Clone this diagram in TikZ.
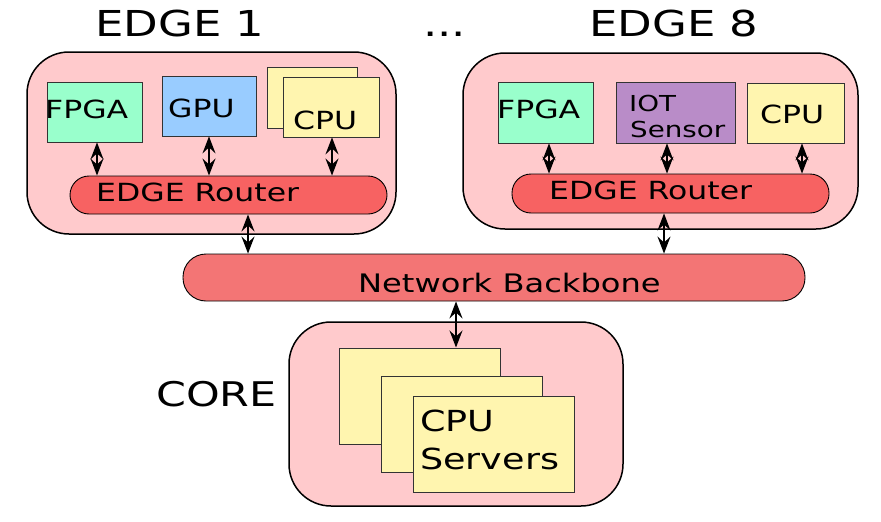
\documentclass[tikz,border=0pt]{standalone}
\usepackage{fontspec}
\setmainfont{DejaVu Sans}[FakeStretch=1.26]
\usetikzlibrary{arrows.meta}
\definecolor{pinkbg}{RGB}{255,202,204}
\definecolor{fpgac}{RGB}{153,255,204}
\definecolor{gpuc}{RGB}{153,204,255}
\definecolor{cpuc}{RGB}{255,245,175}
\definecolor{iotc}{RGB}{185,140,200}
\definecolor{routerc}{RGB}{247,98,98}
\definecolor{backc}{RGB}{243,117,117}
\begin{document}
\begin{tikzpicture}[x=1pt,y=-1pt,
  outer/.style={draw=black, line width=1.5pt, fill=pinkbg, rounded corners=42pt, inner sep=0pt},
  box/.style={draw=black!80, line width=0.8pt, inner sep=0pt},
  pill/.style={draw=black, line width=0.9pt, inner sep=0pt},
  lbl/.style={inner sep=0pt, anchor=base west},
  dar/.style={{Stealth[length=17pt,width=13pt,inset=6pt]}-{Stealth[length=17pt,width=13pt,inset=6pt]}, line width=1.5pt}]
\useasboundingbox (0,0) rectangle (881,522);
% outer containers
\node[outer, minimum width=369pt, minimum height=182pt] (edge1) at (211.5,143) {};
\node[outer, minimum width=395pt, minimum height=176pt] (edge8) at (660.5,141) {};
\node[outer, minimum width=334pt, minimum height=184pt] (core) at (456,414) {};
% edge 1 devices
\node[box, fill=fpgac, minimum width=95pt, minimum height=60pt] (fpga1) at (94.5,112) {};
\node[box, fill=gpuc, minimum width=94pt, minimum height=60pt] (gpu1) at (209,106) {};
\node[box, fill=cpuc, minimum width=90pt, minimum height=61pt] (cpu1b) at (312,97.5) {};
\node[box, fill=cpuc, minimum width=96pt, minimum height=60pt] (cpu1) at (331,107) {};
\node[pill, fill=routerc, rounded corners=19pt, minimum width=317pt, minimum height=38pt] (router1) at (228.5,195) {};
% edge 8 devices
\node[box, fill=fpgac, minimum width=95pt, minimum height=61pt] (fpga8) at (545.5,112.5) {};
\node[box, fill=iotc, minimum width=119pt, minimum height=61pt] (iot8) at (675.5,112.5) {};
\node[box, fill=cpuc, minimum width=97pt, minimum height=60pt] (cpu8) at (795.5,113) {};
\node[pill, fill=routerc, rounded corners=19pt, minimum width=317pt, minimum height=39pt] (router8) at (670.5,193.5) {};
% backbone
\node[pill, fill=backc, rounded corners=23pt, minimum width=622pt, minimum height=47pt] (backbone) at (494,277.5) {};
% core servers
\node[box, fill=cpuc, line width=1pt, minimum width=161pt, minimum height=96pt] (s1) at (419.5,396) {};
\node[box, fill=cpuc, line width=1pt, minimum width=161pt, minimum height=96pt] (s2) at (461.5,424) {};
\node[box, fill=cpuc, line width=1pt, minimum width=161pt, minimum height=96pt] (s3) at (493.5,444) {};
% arrows
\draw[dar] ([xshift=2.5pt]fpga1.south) -- ([xshift=2.5pt]fpga1.south |- router1.north);
\draw[dar] (gpu1.south) -- (gpu1.south |- router1.north);
\draw[dar] ([xshift=1pt]cpu1.south) -- ([xshift=1pt]cpu1.south |- router1.north);
\draw[dar] ([xshift=19.5pt]router1.south) -- ([xshift=19.5pt]router1.south |- backbone.north);
\draw[dar] ([xshift=3.5pt]fpga8.south) -- ([xshift=3.5pt]fpga8.south |- router8.north);
\draw[dar] ([xshift=-8.5pt]iot8.south) -- ([xshift=-8.5pt]iot8.south |- router8.north);
\draw[dar] ([xshift=6.5pt]cpu8.south) -- ([xshift=6.5pt]cpu8.south |- router8.north);
\draw[dar] ([xshift=-6.5pt]router8.south) -- ([xshift=-6.5pt]router8.south |- backbone.north);
\draw[dar] ([xshift=-38pt]backbone.south) -- ([xshift=-38pt]backbone.south |- s1.north);
% texts
\node[lbl, font=\fontsize{35.7}{40}\selectfont] (t1) at (95,36) {EDGE 1};
\node[lbl, font=\fontsize{35.7}{40}\selectfont] (tdots) at (423,36) {...};
\node[lbl, font=\fontsize{35.7}{40}\selectfont] (t8) at (589,36) {EDGE 8};
\node[lbl, font=\fontsize{25}{30}\selectfont] (tf1) at (45,118) {FPGA};
\node[lbl, font=\fontsize{25}{30}\selectfont] (tg1) at (168,117) {GPU};
\node[lbl, font=\fontsize{25}{30}\selectfont] (tc1) at (293,129) {CPU};
\node[lbl, font=\fontsize{25}{30}\selectfont] (tr1) at (96,201) {EDGE Router};
\node[lbl, font=\fontsize{25}{30}\selectfont] (tf8) at (497,118) {FPGA};
\node[lbl, font=\fontsize{22}{26}\selectfont] (ti8) at (629,111) {IOT};
\node[lbl, font=\fontsize{22}{26}\selectfont] (ts8) at (630,137) {Sensor};
\node[lbl, font=\fontsize{25}{30}\selectfont] (tc8) at (760,123) {CPU};
\node[lbl, font=\fontsize{25}{30}\selectfont] (tr8) at (549,199) {EDGE Router};
\node[lbl, font=\fontsize{25.5}{30}\selectfont] (tb) at (358,292) {Network Backbone};
\node[lbl, font=\fontsize{34}{40}\selectfont] (tcore) at (156,406) {CORE};
\node[lbl, font=\fontsize{29}{34}\selectfont] (tcs1) at (420,431) {CPU};
\node[lbl, font=\fontsize{29}{34}\selectfont] (tcs2) at (420,469) {Servers};
\end{tikzpicture}
\end{document}
